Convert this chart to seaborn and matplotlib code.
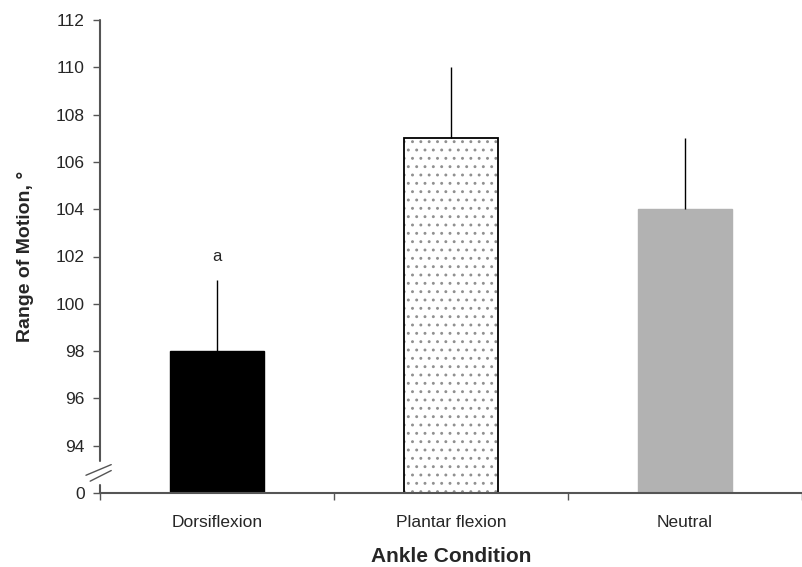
import numpy as np
import pandas as pd
import seaborn as sns
from matplotlib import pyplot as plt
from matplotlib.patches import Rectangle

conditions = ['Dorsiflexion', 'Plantar flexion', 'Neutral']
rom_mean = [98, 107, 104]
rom_sd = [3, 3, 3]
sig_labels = ['a', '', '']
yticks = [92, 94, 96, 98, 100, 102, 104, 106, 108, 110, 112]
ytick_labels = ['0', '94', '96', '98', '100', '102', '104', '106', '108', '110', '112']

sns.set_style('white')
plt.rcParams['font.family'] = ['Liberation Sans', 'DejaVu Sans']
plt.rcParams['hatch.linewidth'] = 0.9

df = pd.DataFrame({'cond': conditions, 'rom': rom_mean})

fig = plt.figure(figsize=(8.02, 5.67), dpi=100)
ax = fig.add_axes([100/802, 74/567, 702/802, 473/567])

sns.barplot(data=df, x='cond', y='rom', hue='cond', legend=False,
            palette=['black', 'white', '#b2b2b2'], width=0.4, saturation=1, ax=ax)

bars = ax.patches
bars[0].set_edgecolor('black')
# dotted bar: grey dots, then black outline on top
b = bars[1]
b.set_edgecolor('#909090')
b.set_hatch('..')
b.set_linewidth(0)
ax.add_patch(Rectangle((b.get_x(), b.get_y()), b.get_width(), b.get_height(),
                       facecolor='none', edgecolor='black', lw=1.3, zorder=b.get_zorder() + 0.1))
bars[2].set_edgecolor('#b2b2b2')

# upper error bars only
ax.errorbar(range(len(conditions)), rom_mean, yerr=[np.zeros(3), rom_sd],
            fmt='none', ecolor='black', elinewidth=1.0, capsize=0, zorder=1)
for i, s in enumerate(sig_labels):
    if s:
        ax.text(i, rom_mean[i] + rom_sd[i] + 1.0, s, ha='center', va='center', fontsize=12)

ax.set_ylim(92, 112)
ax.set_xlim(-0.5, 2.462)
ax.set_yticks(yticks)
ax.set_yticklabels(ytick_labels, fontsize=12.5)
ax.set_xticks(range(3))
ax.set_xticklabels(conditions, fontsize=12.5)
ax.set_xticks([-0.5, 0.5, 1.5, 2.5], minor=True)
ax.tick_params(axis='x', which='major', length=0, pad=16)
ax.tick_params(axis='x', which='minor', direction='out', length=5, width=1, color='#555555', bottom=True)
ax.tick_params(axis='y', direction='out', length=5, width=1, color='#555555', left=True, pad=6)

for sp in ['top', 'right', 'left']:
    ax.spines[sp].set_visible(False)
ax.spines['bottom'].set_color('#555555')
ax.spines['bottom'].set_linewidth(1.5)

# broken y axis
trans = ax.get_yaxis_transform()
ax.plot([0, 0], [93.35, 112], color='#555555', lw=1.5, transform=trans, clip_on=False)
ax.plot([0, 0], [92, 92.35], color='#555555', lw=1.5, transform=trans, clip_on=False)
ax.plot([-0.02, 0.016], [92.75, 93.2], color='#555555', lw=1.0, transform=trans, clip_on=False)
ax.plot([-0.014, 0.016], [92.5, 92.95], color='#555555', lw=1.0, transform=trans, clip_on=False)

ax.set_xlabel('Ankle Condition', fontsize=15, fontweight='bold', labelpad=12)
ax.set_ylabel('Range of Motion, \u00b0', fontsize=14, fontweight='bold', labelpad=16)

fig.savefig('out.png', dpi=100)
